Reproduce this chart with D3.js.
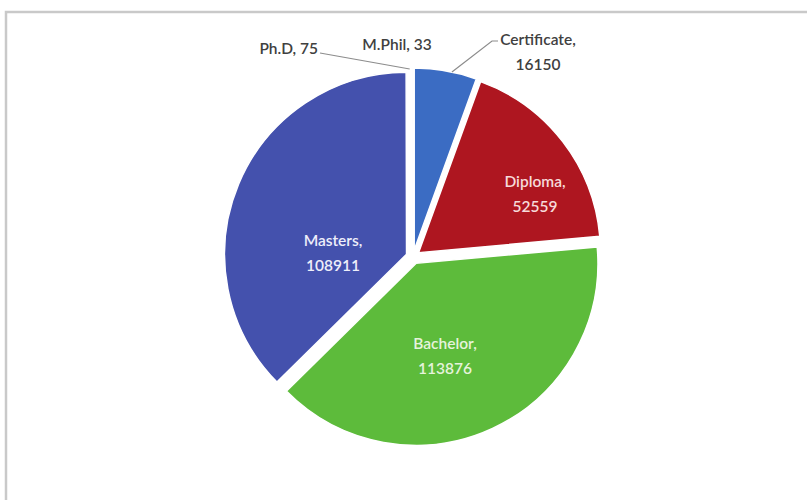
<!DOCTYPE html>
<html>
<head>
<meta charset="utf-8">
<script src="https://cdn.jsdelivr.net/npm/d3@7"></script>
<style>
  body { margin: 0; background: #fff; }
  text { font-family: Lato, "Open Sans", sans-serif; }
</style>
</head>
<body>
<div id="chart"></div>
<script>
const width = 807;
const height = 500;

// data, clockwise from 12 o'clock
const categories = ["Certificate", "Diploma", "Bachelor", "Masters", "Ph.D", "M.Phil"];
const values = [16150, 52559, 113876, 108911, 75, 33];
const colors = ["#3b6cc3", "#ae1620", "#5dbb3b", "#4451ad", "#7f7f7f", "#a0a0a0"];

const cx = 413, cy = 257, radius = 182, explode = 7;

const svg = d3.select("#chart")
  .append("svg")
  .attr("width", width)
  .attr("height", height);

// chart frame
svg.append("rect")
  .attr("x", 6)
  .attr("y", 12)
  .attr("width", width + 10)
  .attr("height", height + 10)
  .attr("fill", "#fff")
  .attr("stroke", "#c9c9c9")
  .attr("stroke-width", 2.5);

const data = categories.map((c, i) => ({ name: c, value: values[i], color: colors[i] }));

const pie = d3.pie().sort(null).value(d => d.value);
const arcs = pie(data);
const arc = d3.arc().innerRadius(0).outerRadius(radius);

const shift = d => {
  const a = (d.startAngle + d.endAngle) / 2;
  return [Math.sin(a) * explode, -Math.cos(a) * explode];
};

const g = svg.append("g").attr("transform", `translate(${cx},${cy})`);

g.selectAll("path")
  .data(arcs)
  .join("path")
  .attr("d", arc)
  .attr("transform", d => `translate(${shift(d)})`)
  .attr("fill", d => d.data.color)
  .attr("stroke", "#fff")
  .attr("stroke-width", 1.5);

// label layout (offsets from pie centre), not data
const labelPos = {
  Certificate: { x: 125, y: -212, anchor: "middle", fill: "#404040" },
  Diploma: { x: 122, y: -70, anchor: "middle", fill: "#f6dada" },
  Bachelor: { x: 32, y: 92, anchor: "middle", fill: "#e6f3dc" },
  Masters: { x: -80, y: -11, anchor: "middle", fill: "#eeeefa" },
  "Ph.D": { x: -95, y: -203, anchor: "end", fill: "#404040", oneLine: true },
  "M.Phil": { x: -16, y: -207, anchor: "middle", fill: "#404040", oneLine: true }
};

// point on a slice's outer edge at fraction t of its sweep
const edgePt = (d, t) => {
  const a = d.startAngle + (d.endAngle - d.startAngle) * t;
  const s = shift(d);
  return [Math.sin(a) * radius + s[0], -Math.cos(a) * radius + s[1]];
};

// leader lines for the small outside slices
const phd = arcs.find(a => a.data.name === "Ph.D");
const cert = arcs.find(a => a.data.name === "Certificate");
const phdEnd = edgePt(phd, 0.5);
const certEnd = edgePt(cert, 0.6);

g.append("polyline")
  .attr("points", [[-93, -204], [phdEnd[0] - 3, phdEnd[1] + 1]].join(" "))
  .attr("fill", "none")
  .attr("stroke", "#8c8c8c")
  .attr("stroke-width", 1.2);

g.append("polyline")
  .attr("points", [[85, -216], [79, -216], certEnd].join(" "))
  .attr("fill", "none")
  .attr("stroke", "#8c8c8c")
  .attr("stroke-width", 1.2);

const labels = g.selectAll("text.lbl")
  .data(arcs)
  .join("text")
  .attr("class", "lbl")
  .attr("x", d => labelPos[d.data.name].x)
  .attr("y", d => labelPos[d.data.name].y)
  .attr("text-anchor", d => labelPos[d.data.name].anchor)
  .attr("fill", d => labelPos[d.data.name].fill)
  .attr("font-size", 15.5)
  .attr("font-weight", 600);

labels.each(function(d) {
  const t = d3.select(this);
  const p = labelPos[d.data.name];
  if (p.oneLine) {
    t.append("tspan").text(`${d.data.name}, ${d.data.value}`);
  } else {
    t.append("tspan").attr("x", p.x).text(`${d.data.name},`);
    t.append("tspan").attr("x", p.x).attr("dy", 25).text(d.data.value);
  }
});
</script>
</body>
</html>
